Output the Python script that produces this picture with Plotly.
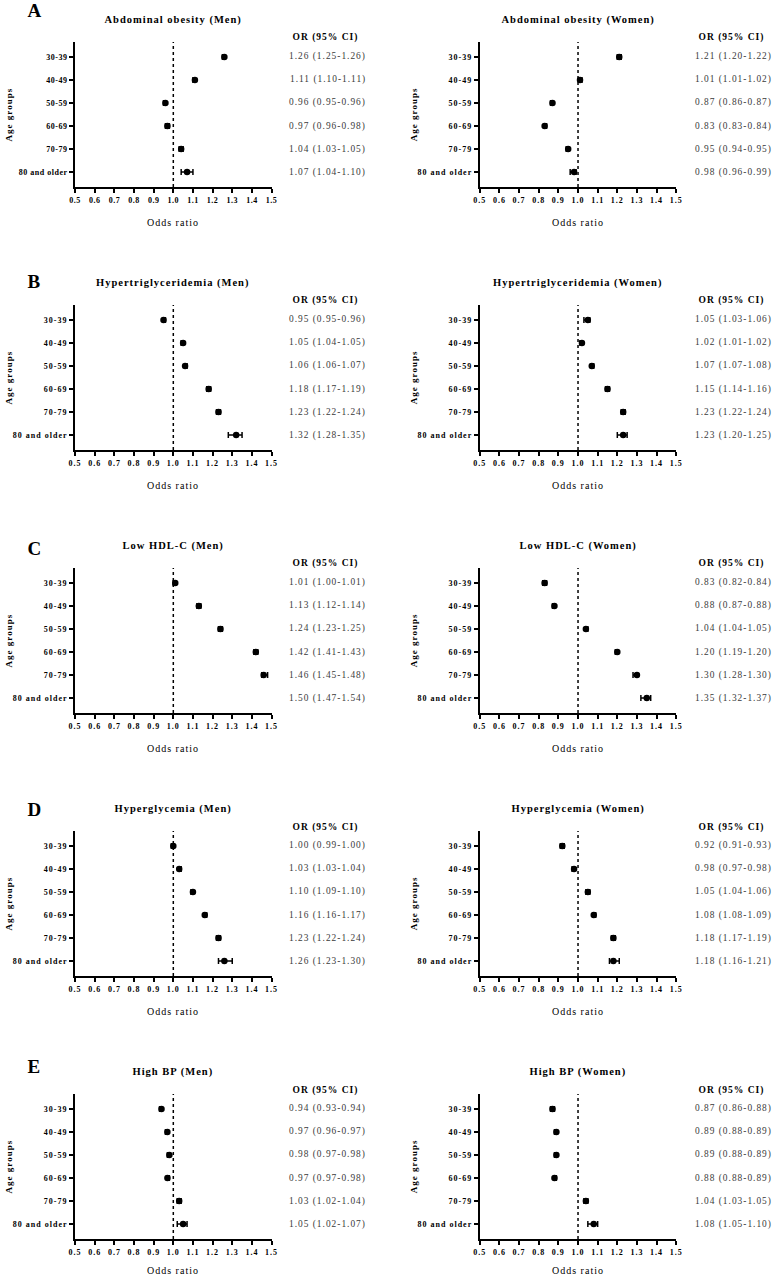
import plotly.graph_objects as go

# ---------------- data ----------------
categories = ["30-39", "40-49", "50-59", "60-69", "70-79", "80 and older"]
panel_letters = ["A", "B", "C", "D", "E"]
conditions = ["Abdominal obesity", "Hypertriglyceridemia", "Low HDL-C", "Hyperglycemia", "High BP"]
sexes = ["Men", "Women"]
x_ticks = [0.5, 0.6, 0.7, 0.8, 0.9, 1.0, 1.1, 1.2, 1.3, 1.4, 1.5]

ao_men_or = [1.26, 1.11, 0.96, 0.97, 1.04, 1.07]
ao_men_lo = [1.25, 1.10, 0.95, 0.96, 1.03, 1.04]
ao_men_hi = [1.26, 1.11, 0.96, 0.98, 1.05, 1.10]
ao_wom_or = [1.21, 1.01, 0.87, 0.83, 0.95, 0.98]
ao_wom_lo = [1.20, 1.01, 0.86, 0.83, 0.94, 0.96]
ao_wom_hi = [1.22, 1.02, 0.87, 0.84, 0.95, 0.99]

tg_men_or = [0.95, 1.05, 1.06, 1.18, 1.23, 1.32]
tg_men_lo = [0.95, 1.04, 1.06, 1.17, 1.22, 1.28]
tg_men_hi = [0.96, 1.05, 1.07, 1.19, 1.24, 1.35]
tg_wom_or = [1.05, 1.02, 1.07, 1.15, 1.23, 1.23]
tg_wom_lo = [1.03, 1.01, 1.07, 1.14, 1.22, 1.20]
tg_wom_hi = [1.06, 1.02, 1.08, 1.16, 1.24, 1.25]

hdl_men_or = [1.01, 1.13, 1.24, 1.42, 1.46, 1.50]
hdl_men_lo = [1.00, 1.12, 1.23, 1.41, 1.45, 1.47]
hdl_men_hi = [1.01, 1.14, 1.25, 1.43, 1.48, 1.54]
hdl_wom_or = [0.83, 0.88, 1.04, 1.20, 1.30, 1.35]
hdl_wom_lo = [0.82, 0.87, 1.04, 1.19, 1.28, 1.32]
hdl_wom_hi = [0.84, 0.88, 1.05, 1.20, 1.30, 1.37]

gl_men_or = [1.00, 1.03, 1.10, 1.16, 1.23, 1.26]
gl_men_lo = [0.99, 1.03, 1.09, 1.16, 1.22, 1.23]
gl_men_hi = [1.00, 1.04, 1.10, 1.17, 1.24, 1.30]
gl_wom_or = [0.92, 0.98, 1.05, 1.08, 1.18, 1.18]
gl_wom_lo = [0.91, 0.97, 1.04, 1.08, 1.17, 1.16]
gl_wom_hi = [0.93, 0.98, 1.06, 1.09, 1.19, 1.21]

bp_men_or = [0.94, 0.97, 0.98, 0.97, 1.03, 1.05]
bp_men_lo = [0.93, 0.96, 0.97, 0.97, 1.02, 1.02]
bp_men_hi = [0.94, 0.97, 0.98, 0.98, 1.04, 1.07]
bp_wom_or = [0.87, 0.89, 0.89, 0.88, 1.04, 1.08]
bp_wom_lo = [0.86, 0.88, 0.88, 0.88, 1.03, 1.05]
bp_wom_hi = [0.88, 0.89, 0.89, 0.89, 1.05, 1.10]

panels = [
    [(ao_men_or, ao_men_lo, ao_men_hi), (ao_wom_or, ao_wom_lo, ao_wom_hi)],
    [(tg_men_or, tg_men_lo, tg_men_hi), (tg_wom_or, tg_wom_lo, tg_wom_hi)],
    [(hdl_men_or, hdl_men_lo, hdl_men_hi), (hdl_wom_or, hdl_wom_lo, hdl_wom_hi)],
    [(gl_men_or, gl_men_lo, gl_men_hi), (gl_wom_or, gl_wom_lo, gl_wom_hi)],
    [(bp_men_or, bp_men_lo, bp_men_hi), (bp_wom_or, bp_wom_lo, bp_wom_hi)],
]

# ---------------- layout geometry (pixels) ----------------
W, H = 776, 1278
COL_X0 = [71, 481]
AX_W = 199
ROW_TOP0 = 42
ROW_STEP = 263
AX_H = 145
OR_COL_X = [327, 738]
LETTER_Y = [10, 282, 548, 809, 1066]
XMIN, XMAX = 0.5, 1.5

SERIF = "Liberation Serif, Times New Roman, serif"


def px(x):
    return x / W


def py(y):
    return 1 - y / H


fig = go.Figure()
layout = dict(
    width=W, height=H,
    margin=dict(l=0, r=0, t=0, b=0),
    paper_bgcolor="white", plot_bgcolor="white",
    showlegend=False,
    font=dict(family=SERIF, color="black"),
)
annotations = []
shapes = []

for r in range(5):
    top = ROW_TOP0 + ROW_STEP * r
    bot = top + AX_H
    for c in range(2):
        idx = r * 2 + c + 1
        sfx = "" if idx == 1 else str(idx)
        xref, yref = "x" + sfx, "y" + sfx
        x0 = COL_X0[c]
        x1 = x0 + AX_W
        layout["xaxis" + sfx] = dict(
            domain=[px(x0), px(x1)], anchor=yref, range=[XMIN, XMAX],
            tickvals=x_ticks, ticktext=[f"{v:.1f}" for v in x_ticks],
            ticks="outside", ticklen=4, tickwidth=1.5, tickcolor="black",
            showline=True, linewidth=2, linecolor="black",
            showgrid=False, zeroline=False, fixedrange=True,
            tickfont=dict(family=SERIF, size=8, weight="bold", color="black"),
        )
        layout["yaxis" + sfx] = dict(
            domain=[py(bot), py(top)], anchor=xref,
            type="category", categoryorder="array", categoryarray=categories,
            range=[5.65, -0.65],
            ticks="outside", ticklen=4, tickwidth=1.5, tickcolor="black",
            showline=True, linewidth=2, linecolor="black",
            showgrid=False, zeroline=False, fixedrange=True,
            tickfont=dict(family=SERIF, size=8, weight="bold", color="black"),
        )
        o, lo, hi = panels[r][c]
        xs = [v if v < XMAX else None for v in o]
        fig.add_trace(go.Scatter(
            x=xs, y=categories, xaxis=xref, yaxis=yref, mode="markers",
            marker=dict(symbol="circle", size=6.5, color="black"),
            error_x=dict(type="data", symmetric=False,
                         array=[h - v for h, v in zip(hi, o)],
                         arrayminus=[v - l for v, l in zip(o, lo)],
                         color="black", thickness=1.5, width=3),
            cliponaxis=True, hoverinfo="skip",
        ))
        # reference line at OR = 1
        shapes.append(dict(type="line", xref=xref, yref=yref + " domain",
                           x0=1.0, x1=1.0, y0=0, y1=1,
                           line=dict(color="black", width=1.5, dash="dot")))
        cx = (x0 + x1) / 2
        # panel title
        annotations.append(dict(
            text=f"{conditions[r]} ({sexes[c]})", xref="paper", yref="paper",
            x=px(cx), y=py(top - 22), xanchor="center", yanchor="middle",
            showarrow=False, font=dict(family=SERIF, size=10.5, weight="bold", color="black")))
        # OR header
        annotations.append(dict(
            text="OR (95% CI)", xref="paper", yref="paper",
            x=px(OR_COL_X[c] - 2), y=py(top - 4), xanchor="center", yanchor="middle",
            showarrow=False, font=dict(family=SERIF, size=9.5, weight="bold", color="black")))
        # OR values
        for i, cat in enumerate(categories):
            annotations.append(dict(
                text=f"{o[i]:.2f} ({lo[i]:.2f}-{hi[i]:.2f})", xref="paper", yref=yref,
                x=px(OR_COL_X[c]), y=i, xanchor="center", yanchor="middle",
                showarrow=False, font=dict(family=SERIF, size=9.4, color="#3a3a3a")))
        # x-axis title
        xt_y = min(bot + 35, H - 8)
        annotations.append(dict(
            text="Odds ratio", xref="paper", yref="paper",
            x=px(cx), y=py(xt_y), xanchor="center", yanchor="middle",
            showarrow=False, font=dict(family=SERIF, size=10, color="black")))
        # y-axis title
        annotations.append(dict(
            text="Age groups", xref="paper", yref="paper",
            x=px(x0 - 67), y=py((top + bot) / 2), xanchor="center", yanchor="middle",
            textangle=-90, showarrow=False,
            font=dict(family=SERIF, size=9, weight="bold", color="black")))
    # panel letter
    annotations.append(dict(
        text=panel_letters[r], xref="paper", yref="paper",
        x=px(30), y=py(LETTER_Y[r]), xanchor="center", yanchor="middle",
        showarrow=False, font=dict(family=SERIF, size=19, weight="bold", color="black")))

layout["annotations"] = annotations
layout["shapes"] = shapes
fig.update_layout(**layout)

post = ("var s=document.createElement('style');"
        "s.textContent='html,body{margin:0;padding:0;overflow:hidden;}"
        ".js-plotly-plot svg text{letter-spacing:1px;}"
        ".js-plotly-plot .xtick text,.js-plotly-plot .ytick text{letter-spacing:0.5px;}';"
        "document.head.appendChild(s);")
fig.write_html("out.html", post_script=post, config={"displayModeBar": False})
